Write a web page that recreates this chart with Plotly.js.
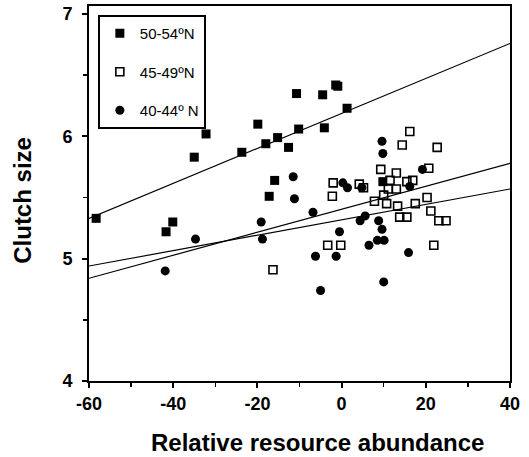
<!DOCTYPE html>
<html>
<head>
<meta charset="utf-8">
<script src="https://cdn.plot.ly/plotly-3.0.1.min.js"></script>
<style>html,body{margin:0;padding:0;background:#fff}#chart{width:529px;height:457px}</style>
</head>
<body>
<div id="chart"></div>
<script>
// 50-54ºN (filled squares)
var northX = [-58.3, -41.7, -40.1, -35.0, -32.2, -23.7, -19.9, -18.0, -15.2, -12.6, -10.7, -10.2, -15.9, -17.2, -4.5, -4.1, -1.4, -0.9, 1.3, 9.8];
var northY = [5.33, 5.22, 5.30, 5.83, 6.02, 5.87, 6.10, 5.94, 5.99, 5.91, 6.35, 6.06, 5.64, 5.51, 6.34, 6.07, 6.42, 6.41, 6.23, 5.63];
// 45-49ºN (open squares)
var midX = [-16.3, -3.3, -0.2, -2.0, -2.2, 4.2, 5.2, 9.3, 7.8, 10.0, 10.7, 11.5, 13.0, 11.1, 13.0, 13.3, 13.8, 15.5, 14.4, 16.2, 15.5, 16.9, 17.5, 20.3, 20.7, 22.7, 21.2, 23.1, 24.8, 21.9];
var midY = [4.91, 5.11, 5.11, 5.62, 5.51, 5.61, 5.58, 5.73, 5.47, 5.52, 5.45, 5.64, 5.70, 5.57, 5.57, 5.43, 5.34, 5.34, 5.93, 6.04, 5.63, 5.64, 5.45, 5.50, 5.74, 5.91, 5.39, 5.31, 5.31, 5.11];
// 40-44º N (filled circles)
var southX = [-41.9, -34.7, -19.1, -18.8, -11.5, -11.2, -6.8, -6.2, -5.0, -1.3, -0.5, 0.3, 1.4, 4.4, 4.8, 5.6, 6.5, 8.8, 9.6, 9.8, 9.6, 8.5, 10.1, 10.0, 15.9, 16.2, 19.2];
var southY = [4.90, 5.16, 5.30, 5.16, 5.67, 5.49, 5.38, 5.02, 4.74, 5.02, 5.22, 5.62, 5.58, 5.31, 5.58, 5.35, 5.11, 5.31, 5.96, 5.86, 5.24, 5.15, 5.15, 4.81, 5.05, 5.59, 5.73];
// regression lines (end points)
var fitX = [-60, 40];
var fitNorth = [5.33, 6.76];
var fitMid = [4.84, 5.78];
var fitSouth = [4.94, 5.57];
// tick labels
var xTickVals = [-60, -40, -20, 0, 20, 40];
var xTickText = ['-60', '-40', '-20', '0', '20', '40'];
var yTickVals = [4, 5, 6, 7];
var yTickText = ['4', '5', '6', '7'];

var F = 'Liberation Sans, Arial, Helvetica, sans-serif';
var lineStyle = {color: '#000', width: 1.2};

var traces = [
  {x: fitX, y: fitNorth, mode: 'lines', line: lineStyle, showlegend: false, hoverinfo: 'skip'},
  {x: fitX, y: fitMid, mode: 'lines', line: lineStyle, showlegend: false, hoverinfo: 'skip'},
  {x: fitX, y: fitSouth, mode: 'lines', line: lineStyle, showlegend: false, hoverinfo: 'skip'},
  {x: northX, y: northY, mode: 'markers', name: '50-54ºN', legendgroup: 'a',
   marker: {symbol: 'square', size: 9, color: '#000'}},
  {x: midX, y: midY, mode: 'markers', name: '45-49ºN', legendgroup: 'b',
   marker: {symbol: 'square-open', size: 8, color: '#000', line: {width: 1.6, color: '#000'}}},
  {x: southX, y: southY, mode: 'markers', name: '40-44º N', legendgroup: 'c',
   marker: {symbol: 'circle', size: 9, color: '#000'}}
];

var axisCommon = {
  showgrid: false, zeroline: false, showline: true, linecolor: '#000', linewidth: 2,
  mirror: true, ticks: 'outside', ticklen: 5, tickwidth: 2, tickcolor: '#000',
  tickfont: {family: F, size: 18, color: '#000', weight: 'bold'}
};

var layout = {
  width: 529, height: 457,
  margin: {l: 89, r: 19, t: 6, b: 76},
  paper_bgcolor: '#fff', plot_bgcolor: '#fff',
  showlegend: true,
  legend: {
    x: 0.021, y: 0.976, xanchor: 'left', yanchor: 'top',
    bordercolor: '#000', borderwidth: 2, bgcolor: '#fff',
    traceorder: 'grouped', tracegroupgap: 16,
    font: {family: F, size: 15, color: '#000'},
    itemwidth: 30
  },
  xaxis: Object.assign({}, axisCommon, {
    range: [-60, 40], tickmode: 'array', tickvals: xTickVals, ticktext: xTickText,
    minor: {dtick: 10, ticks: 'outside', ticklen: 4, tickwidth: 1.5, tickcolor: '#000', showgrid: false}
  }),
  yaxis: Object.assign({}, axisCommon, {
    range: [4, 7.066], tickmode: 'array', tickvals: yTickVals, ticktext: yTickText,
    ticklabelstandoff: 6,
    minor: {dtick: 0.5, ticks: 'outside', ticklen: 4, tickwidth: 1.5, tickcolor: '#000', showgrid: false}
  }),
  annotations: [
    {text: 'Relative resource abundance', xref: 'paper', yref: 'paper', x: 0.542, y: -0.163,
     xanchor: 'center', yanchor: 'middle', showarrow: false,
     font: {family: F, size: 24, color: '#000', weight: 'bold'}},
    {text: 'Clutch size', xref: 'paper', yref: 'paper', x: -0.157, y: 0.483, textangle: -90,
     xanchor: 'center', yanchor: 'middle', showarrow: false,
     font: {family: F, size: 24, color: '#000', weight: 'bold'}}
  ]
};

Plotly.newPlot('chart', traces, layout, {displayModeBar: false, staticPlot: true});
</script>
</body>
</html>
